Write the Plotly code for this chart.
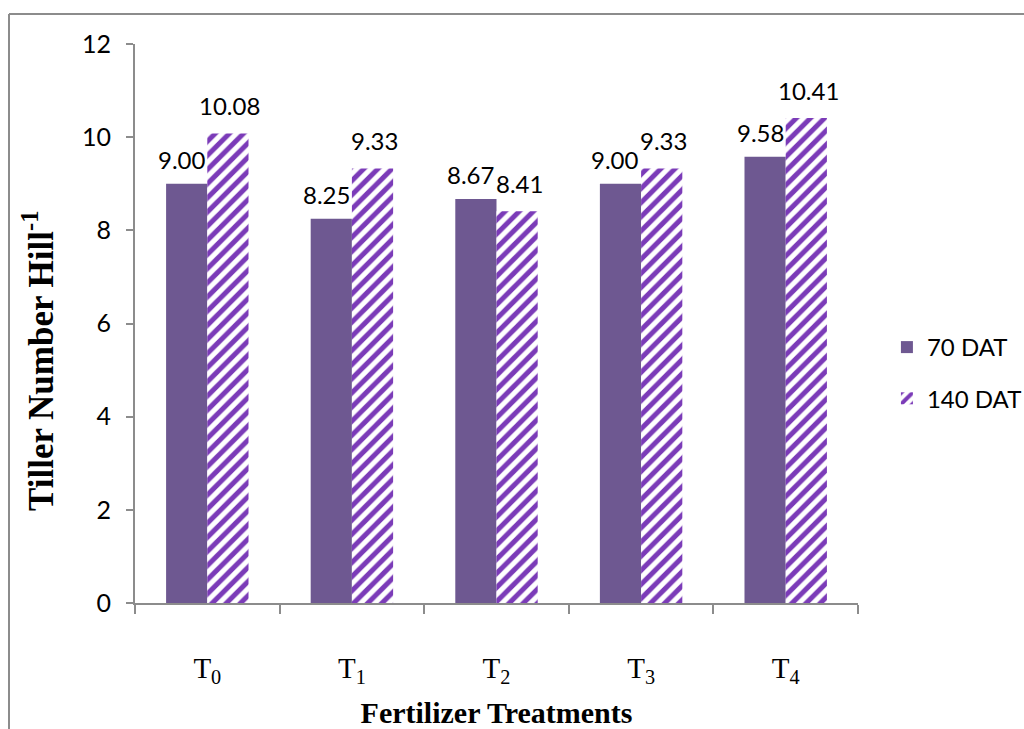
import plotly.graph_objects as go

categories = ["T<sub>0</sub>", "T<sub>1</sub>", "T<sub>2</sub>", "T<sub>3</sub>", "T<sub>4</sub>"]
dat70 = [9.00, 8.25, 8.67, 9.00, 9.58]
dat140 = [10.08, 9.33, 8.41, 9.33, 10.41]
series_names = ["70 DAT", "140 DAT"]
y_ticks = [0, 2, 4, 6, 8, 10, 12]

solid_color = "#6E5891"
hatch_color = "#7B3BB8"
axis_color = "#8C8C8C"
label_font = "Lato, 'Open Sans', sans-serif"
serif = "'Liberation Serif', 'Times New Roman', serif"

fig = go.Figure()
fig.add_trace(go.Bar(
    x=categories, y=dat70, name=series_names[0],
    marker=dict(color=solid_color, line=dict(width=0)),
    legendgroup="a",
))
fig.add_trace(go.Bar(
    x=categories, y=dat140, name=series_names[1],
    marker=dict(color="white", line=dict(width=0),
                pattern=dict(shape="/", fgcolor=hatch_color, bgcolor="white",
                             size=10, solidity=0.5, fillmode="replace")),
    legendgroup="b",
))

L, R, T, B = 135, 166, 44, 126
W, H = 1024, 729
pw, ph = W - L - R, H - T - B
bx = (9 - L) / pw
by = (H - B - 14) / ph
bargap = 0.43
half_bar = pw / len(categories) * (1 - bargap) / 4

annotations = []
for series, shift, gap in ((dat70, -half_bar - 5, 8), (dat140, half_bar + 2, 11)):
    for c, v in zip(categories, series):
        annotations.append(dict(
            x=c, y=v, xref="x", yref="y", text=f"{v:.2f}", showarrow=False,
            xanchor="center", yanchor="bottom", xshift=shift, yshift=gap,
            font=dict(size=24, family=label_font, color="black")))
annotations.append(dict(
    text="<b>Tiller Number Hill<sup>-1</sup></b>", textangle=-90,
    xref="paper", yref="paper", x=(38 - L) / pw, y=(H - B - 361) / ph,
    xanchor="center", yanchor="middle", showarrow=False,
    font=dict(size=35, family=serif, color="black")))

fig.update_layout(
    width=W, height=H,
    margin=dict(l=L, r=R, t=T, b=B, autoexpand=False),
    paper_bgcolor="white", plot_bgcolor="white",
    barmode="group", bargap=bargap, bargroupgap=0,
    showlegend=True,
    legend=dict(x=1.04, y=(H - B - 373) / ph, xanchor="left", yanchor="middle",
                font=dict(size=24, family=label_font, color="black"),
                tracegroupgap=17, traceorder="grouped", itemwidth=30),
    xaxis=dict(
        showline=True, linecolor=axis_color, linewidth=2,
        ticks="outside", ticklen=9, tickcolor=axis_color, tickwidth=2,
        tickson="boundaries", showgrid=False,
        ticklabelstandoff=38,
        tickfont=dict(size=29, family=serif, color="black"),
        title=dict(text="<b>Fertilizer Treatments</b>", standoff=20,
                   font=dict(size=30, family=serif, color="black")),
    ),
    yaxis=dict(
        range=[0, 12], tickvals=y_ticks, showgrid=False, zeroline=False,
        showline=True, linecolor=axis_color, linewidth=2,
        ticks="outside", ticklen=7, tickcolor=axis_color, tickwidth=2,
        ticklabelstandoff=10,
        tickfont=dict(size=25, family=label_font, color="black"),
    ),
    annotations=annotations,
    shapes=[
        dict(type="line", xref="paper", yref="paper", x0=bx, x1=bx, y0=-0.5, y1=by,
             line=dict(color=axis_color, width=2)),
        dict(type="line", xref="paper", yref="paper", x0=bx, x1=1.5, y0=by, y1=by,
             line=dict(color=axis_color, width=2)),
    ],
)

fig.write_html("out.html")
